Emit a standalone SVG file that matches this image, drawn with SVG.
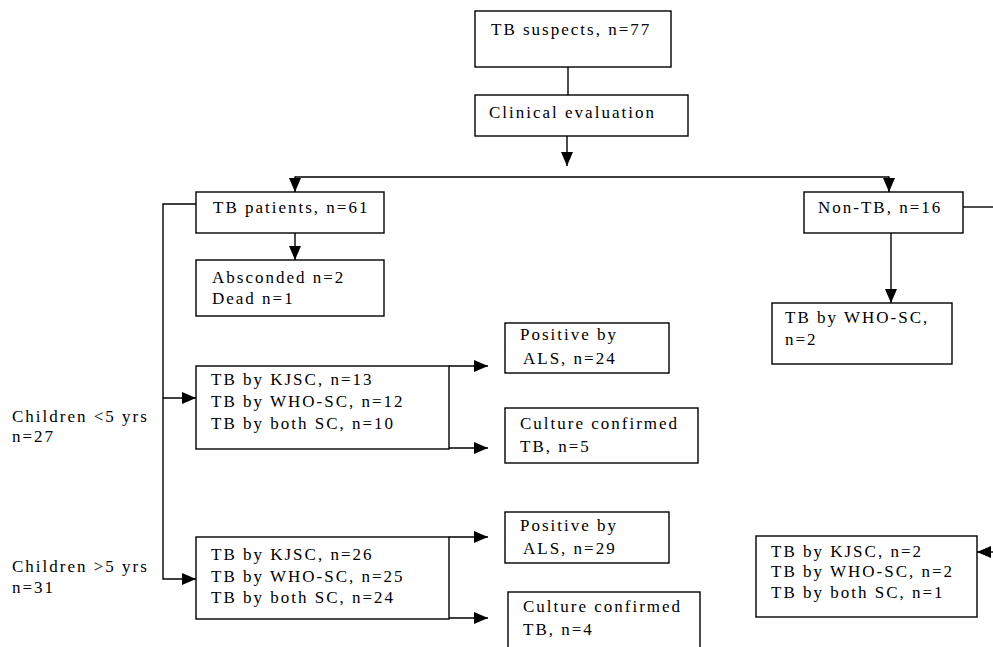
<svg xmlns="http://www.w3.org/2000/svg" width="993" height="647" viewBox="0 0 993 647">
<style>
.box{fill:#fff;stroke:#000;stroke-width:1.4}
.t{font-family:"Liberation Serif","Times New Roman",serif;font-size:17px;letter-spacing:2px;fill:#000}
.c{fill:none;stroke:#000;stroke-width:1.4}
.a{marker-end:url(#ah)}
</style>
<defs>
<marker id="ah" markerUnits="userSpaceOnUse" markerWidth="14" markerHeight="12" refX="14" refY="6" orient="auto">
<path d="M0,0 L14,6 L0,12 Z" fill="#000"/>
</marker>
</defs>
<rect width="993" height="647" fill="#fff"/>
<g id="connectors">
<path class="c" d="M568,67 V95"/>
<path class="c a" d="M567,136 V166"/>
<path class="c a" d="M567,177 H295 V192"/>
<path class="c a" d="M567,177 H889 V192"/>
<path class="c a" d="M295,233 V260"/>
<path class="c a" d="M196,204 H163 V579 H196"/>
<path class="c a" d="M163,398 H196"/>
<path class="c a" d="M449,366 H488"/>
<path class="c a" d="M449,448 H488"/>
<path class="c a" d="M449,537 H488"/>
<path class="c a" d="M449,618 H488"/>
<path class="c a" d="M891,233 V303"/>
<path class="c" d="M963,207 H993"/>
<path class="c a" d="M995,552 H977"/>
</g>
<g id="tb-suspects"><rect class="box" x="475" y="11" width="196" height="56"/><text class="t" x="491" y="35">TB suspects, n=77</text></g>
<g id="clinical"><rect class="box" x="475" y="95" width="213" height="41"/><text class="t" x="489" y="118">Clinical evaluation</text></g>
<g id="tb-patients"><rect class="box" x="196" y="192" width="188" height="41"/><text class="t" x="213" y="213">TB patients, n=61</text></g>
<g id="absconded"><rect class="box" x="196" y="260" width="188" height="56"/><text class="t" x="212" y="283">Absconded n=2</text><text class="t" x="212" y="304">Dead n=1</text></g>
<g id="under5"><text class="t" x="12" y="422">Children &lt;5 yrs</text><text class="t" x="12" y="442">n=27</text></g>
<g id="over5"><text class="t" x="12" y="572">Children &gt;5 yrs</text><text class="t" x="12" y="593">n=31</text></g>
<g id="box-u5"><rect class="box" x="196" y="366" width="253" height="83"/><text class="t" x="211" y="385">TB by KJSC, n=13</text><text class="t" x="211" y="407">TB by WHO-SC, n=12</text><text class="t" x="211" y="429">TB by both SC, n=10</text></g>
<g id="box-o5"><rect class="box" x="196" y="537" width="253" height="82"/><text class="t" x="211" y="560">TB by KJSC, n=26</text><text class="t" x="211" y="582">TB by WHO-SC, n=25</text><text class="t" x="211" y="603">TB by both SC, n=24</text></g>
<g id="als-u5"><rect class="box" x="505" y="323" width="164" height="50"/><text class="t" x="520" y="340">Positive by</text><text class="t" x="523" y="364">ALS, n=24</text></g>
<g id="cult-u5"><rect class="box" x="505" y="408" width="193" height="55"/><text class="t" x="520" y="429">Culture confirmed</text><text class="t" x="520" y="452">TB, n=5</text></g>
<g id="als-o5"><rect class="box" x="505" y="512" width="164" height="51"/><text class="t" x="520" y="531">Positive by</text><text class="t" x="523" y="554">ALS, n=29</text></g>
<g id="cult-o5"><rect class="box" x="508" y="592" width="192" height="70"/><text class="t" x="523" y="612">Culture confirmed</text><text class="t" x="523" y="635">TB, n=4</text></g>
<g id="non-tb"><rect class="box" x="804" y="192" width="159" height="41"/><text class="t" x="818" y="213">Non-TB, n=16</text></g>
<g id="who-sc"><rect class="box" x="772" y="303" width="180" height="61"/><text class="t" x="785" y="323">TB by WHO-SC,</text><text class="t" x="785" y="345">n=2</text></g>
<g id="nontb-sc"><rect class="box" x="756" y="536" width="221" height="81"/><text class="t" x="771" y="557">TB by KJSC, n=2</text><text class="t" x="771" y="577">TB by WHO-SC, n=2</text><text class="t" x="771" y="598">TB by both SC, n=1</text></g>
</svg>
